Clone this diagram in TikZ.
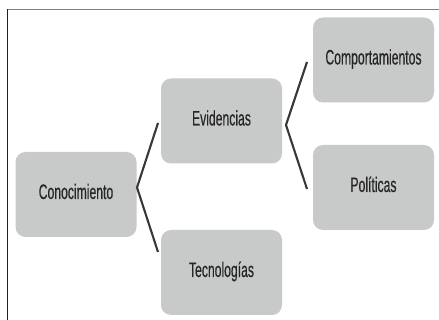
\documentclass[tikz,border=0pt]{standalone}
\usepackage{fontspec}
\setmainfont[FakeStretch=0.58,FakeBold=0.3]{Liberation Sans}
\begin{document}
\begin{tikzpicture}[x=1pt,y=-1pt,
  box/.style={rounded corners=10pt, fill=boxgray, draw=none, minimum width=121pt, minimum height=85pt, inner sep=0pt, text=txtgray, text height=15pt, text depth=6pt, font=\fontsize{21}{24}\selectfont},
  conn/.style={draw=linegray, line width=2.1pt}]
\definecolor{boxgray}{HTML}{C8C9C9}
\definecolor{txtgray}{HTML}{262626}
\definecolor{linegray}{HTML}{383838}
\useasboundingbox (0,0) rectangle (439,320);
\fill[white] (0,0) rectangle (439,320);
\draw[color=black!50, line width=1.5pt] (7,9.5) -- (439,9.5);
\draw[color=black!88, line width=1.5pt] (7.3,9.5) -- (7.3,320);
\node[box] (cono) at (76,194.5) {Conocimiento};
\node[box] (evid) at (221.5,121) {Evidencias};
\node[box] (tecn) at (221.5,272.5) {Tecnologías};
\node[box] (comp) at (373.5,60) {Comportamientos};
\node[box] (poli) at (373.5,187.5) {Políticas};
\coordinate (a1) at (137,187.5);
\coordinate (e1) at (158,123);
\coordinate (e2) at (158,252);
\coordinate (a2) at (286,125);
\coordinate (e3) at (307,62);
\coordinate (e4) at (307,189);
\draw[conn] (e1) -- (a1) -- (e2);
\draw[conn] (e3) -- (a2) -- (e4);
\end{tikzpicture}
\end{document}
